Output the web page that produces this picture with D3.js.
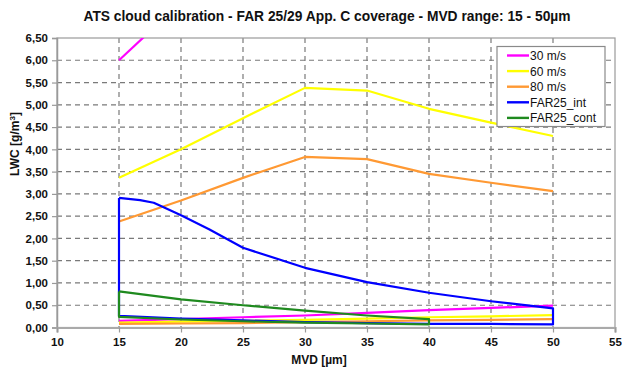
<!DOCTYPE html>
<html>
<head>
<meta charset="utf-8">
<script src="https://cdn.jsdelivr.net/npm/d3@7"></script>
<style>
  html, body { margin: 0; padding: 0; background: #fff; }
  svg { display: block; font-family: "Liberation Sans", Arial, sans-serif; }
</style>
</head>
<body>
<svg id="chart" width="622" height="371"></svg>
<script>
// MVD grid (µm) used by the speed envelopes
const mvd = [15, 20, 25, 30, 35, 40, 45, 50];

// Speed envelopes: upper and lower LWC limits (g/m³)
const v30Upper = [6.00, 7.30];            // leaves the axis range above 6.5
const v30UpperMvd = [15, 20];
const v30Lower = [0.15, 0.19, 0.23, 0.27, 0.33, 0.39, 0.44, 0.49];
const v60Upper = [3.36, 4.00, 4.70, 5.38, 5.32, 4.91, 4.60, 4.30];
const v60Lower = [0.11, 0.13, 0.15, 0.17, 0.20, 0.23, 0.25, 0.28];
const v80Upper = [2.38, 2.85, 3.36, 3.83, 3.78, 3.45, 3.25, 3.06];
const v80Lower = [0.08, 0.09, 0.10, 0.12, 0.14, 0.16, 0.17, 0.19];

// FAR 25 App. C intermittent maximum envelope (closed outline)
const intMvd = [15, 16.7, 17.8, 18.6, 20, 22.3, 25, 30, 35, 40, 45, 50, 50, 45, 40, 35, 30, 25, 20, 15, 15];
const intLwc = [2.91, 2.86, 2.80, 2.70, 2.52, 2.20, 1.79, 1.34, 1.02, 0.78, 0.59, 0.43, 0.07, 0.08, 0.08, 0.10, 0.12, 0.16, 0.20, 0.26, 2.91];

// FAR 25 App. C continuous maximum envelope (closed outline)
const contMvd = [15, 20, 25, 30, 35, 40, 40, 35, 30, 25, 20, 15, 15];
const contLwc = [0.81, 0.63, 0.50, 0.38, 0.27, 0.19, 0.07, 0.09, 0.11, 0.14, 0.18, 0.24, 0.81];

// Axis ticks
const xTicks = [10, 15, 20, 25, 30, 35, 40, 45, 50, 55];
const yTicks = d3.range(0, 6.51, 0.5);

const legendNames = ["30 m/s", "60 m/s", "80 m/s", "FAR25_int", "FAR25_cont"];
const colors = ["#ff00ff", "#ffff00", "#ff9933", "#0000ff", "#1f8a1f"];

const svg = d3.select("#chart");
const m = { left: 57, right: 615, top: 38, bottom: 327.5 };

const x = d3.scaleLinear().domain([10, 55]).range([m.left, m.right]);
const y = d3.scaleLinear().domain([0, 6.5]).range([m.bottom, m.top]);

svg.append("defs").append("clipPath").attr("id", "plotClip")
  .append("rect").attr("x", m.left).attr("y", m.top)
  .attr("width", m.right - m.left).attr("height", m.bottom - m.top);

// Title
svg.append("text")
  .attr("x", 327).attr("y", 21)
  .attr("text-anchor", "middle")
  .attr("font-weight", "bold").attr("font-size", 13.8)
  .attr("fill", "#111")
  .text("ATS cloud calibration - FAR 25/29 App. C coverage - MVD range: 15 - 50µm");

// Grid
const grid = svg.append("g");
grid.selectAll("line.h").data(yTicks.filter(d => d > 0 && d < 6.5)).join("line")
  .attr("x1", m.left).attr("x2", m.right)
  .attr("y1", d => y(d)).attr("y2", d => y(d))
  .attr("stroke", "#7a7a7a").attr("stroke-width", 1.2).attr("stroke-dasharray", "5,4");
grid.selectAll("line.v").data(xTicks.filter(d => d > 10 && d < 55)).join("line")
  .attr("x1", d => x(d)).attr("x2", d => x(d))
  .attr("y1", m.top).attr("y2", m.bottom)
  .attr("stroke", "#7a7a7a").attr("stroke-width", 1.2).attr("stroke-dasharray", "5,4");

// Plot frame
svg.append("rect")
  .attr("x", m.left).attr("y", m.top)
  .attr("width", m.right - m.left).attr("height", m.bottom - m.top)
  .attr("fill", "none").attr("stroke", "#9a9a9a").attr("stroke-width", 1.2);

// Axes
const fmt = d => d3.format(".2f")(d).replace(".", ",");
const yAxis = svg.append("g").attr("transform", `translate(${m.left},0)`)
  .call(d3.axisLeft(y).tickValues(yTicks).tickFormat(fmt).tickSize(5).tickPadding(4));
const xAxis = svg.append("g").attr("transform", `translate(0,${m.bottom})`)
  .call(d3.axisBottom(x).tickValues(xTicks).tickFormat(d3.format("d")).tickSize(5).tickPadding(5));
[xAxis, yAxis].forEach(a => {
  a.select(".domain").attr("stroke", "#9a9a9a").attr("stroke-width", 1.5);
  a.selectAll(".tick line").attr("stroke", "#9a9a9a").attr("stroke-width", 1.2);
  a.selectAll(".tick text").attr("font-weight", "bold").attr("font-size", 11.5)
    .attr("fill", "#111").attr("font-family", "Liberation Sans, Arial, sans-serif");
});
xAxis.select(".domain").attr("stroke", "#aaaaaa").attr("stroke-width", 2.2);

// Axis titles
svg.append("text")
  .attr("x", 319).attr("y", 364)
  .attr("text-anchor", "middle").attr("font-weight", "bold").attr("font-size", 12)
  .attr("fill", "#111")
  .text("MVD [µm]");
const yTitle = svg.append("text")
  .attr("transform", "translate(19,144) rotate(-90)")
  .attr("text-anchor", "middle").attr("font-weight", "bold").attr("font-size", 12)
  .attr("fill", "#111");
yTitle.append("tspan").text("LWC [g/m");
yTitle.append("tspan").attr("font-size", 8).attr("dy", -4).text("3");
yTitle.append("tspan").attr("dy", 4).text("]");

// Series
const line = d3.line().x(d => x(d[0])).y(d => y(d[1]));
const zip = (xs, ys) => xs.map((v, i) => [v, ys[i]]);
const plot = svg.append("g").attr("clip-path", "url(#plotClip)");
const paths = [
  { pts: zip(v30UpperMvd, v30Upper), c: colors[0] },
  { pts: zip(mvd, v30Lower), c: colors[0] },
  { pts: zip(mvd, v60Upper), c: colors[1] },
  { pts: zip(mvd, v60Lower), c: colors[1] },
  { pts: zip(mvd, v80Upper), c: colors[2] },
  { pts: zip(mvd, v80Lower), c: colors[2] },
  { pts: zip(intMvd, intLwc), c: colors[3] },
  { pts: zip(contMvd, contLwc), c: colors[4] }
];
plot.selectAll("path.s").data(paths).join("path")
  .attr("d", d => line(d.pts))
  .attr("fill", "none").attr("stroke", d => d.c)
  .attr("stroke-width", 2.2).attr("stroke-linejoin", "round");

// Legend
const lg = svg.append("g").attr("transform", "translate(497,46.5)");
lg.append("rect").attr("width", 108).attr("height", 80)
  .attr("fill", "#fff").attr("stroke", "#8a8a8a").attr("stroke-width", 1.2);
const items = lg.selectAll("g.item").data(legendNames).join("g")
  .attr("transform", (d, i) => `translate(0,${9 + i * 15.6})`);
items.append("line").attr("x1", 10).attr("x2", 32).attr("y1", 0).attr("y2", 0)
  .attr("stroke", (d, i) => colors[i]).attr("stroke-width", 2.4);
items.append("text").attr("x", 33).attr("y", 4.5)
  .attr("font-size", 12).attr("fill", "#111").text(d => d);
</script>
</body>
</html>
